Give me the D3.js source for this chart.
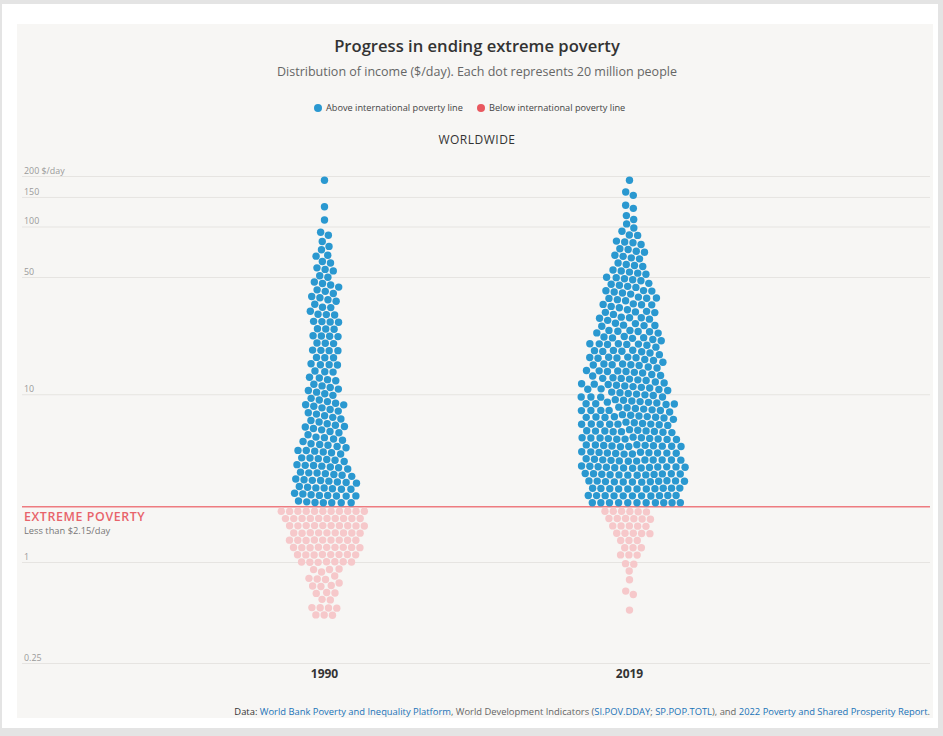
<!DOCTYPE html>
<html>
<head>
<meta charset="utf-8">
<script src="https://cdn.jsdelivr.net/npm/d3@7"></script>
<style>
body{margin:0;background:#fff;font-family:"Open Sans",sans-serif;}
svg{display:block;}
</style>
</head>
<body>
<svg id="chart" width="943" height="736"></svg>
<script>
var years=["1990","2019"];
// income level ($/day) of each band, low to high
var incomeBands=[0.52,0.66,0.79,0.95,1.14,1.37,1.64,1.97,2.36,2.83,3.4,4.09,4.9,5.88,7.07,8.48,10.2,12.2,14.7,17.6,21.2,25.4,30.5,36.6,43.9,52.7,63.4,76,91.2,110,132,158,190];
// number of dots (20 million people each) in each band
var dots1990=[7,5,7,5,15,18,19,21,12,18,14,12,10,9,8,8,7,6,7,7,7,7,6,6,6,5,4,3,2,1,1,0,1];
var dots2019=[1,2,1,3,3,6,10,12,20,21,24,24,23,22,21,21,19,18,17,16,14,12,12,12,10,8,7,6,4,3,2,2,1];
var tickValues=[0.25,1,10,50,100,150,200];
var tickLabels=["0.25","1","10","50","100","150","200 $/day"];
var povertyLine=2.15;

var blue="#2a98d0", pink="#f6c8ca", red="#e8636a";

var svg=d3.select('#chart');

// frame + panel
svg.append('rect').attr('x',0).attr('y',0).attr('width',943).attr('height',736).style('fill','#e4e4e4');
svg.append('rect').attr('x',2).attr('y',4).attr('width',936).attr('height',724).style('fill','#fff');
svg.append('rect').attr('x',17).attr('y',24).attr('width',916).attr('height',694).style('fill','#f7f6f4');

var y=d3.scaleLog().domain([0.25,200]).range([663.5,176.5]);
var x=d3.scaleBand().domain(years).range([172,782]);

// titles
svg.append('text').attr('x',477).attr('y',52).attr('text-anchor','middle')
    .style('font-size','16.6px').style('font-weight','600').style('fill','#333')
    .text('Progress in ending extreme poverty');
svg.append('text').attr('x',477).attr('y',76).attr('text-anchor','middle')
    .style('font-size','12.5px').style('fill','#666')
    .text('Distribution of income ($/day). Each dot represents 20 million people');

// legend
var legend=[{label:'Above international poverty line',color:blue,x:318},
            {label:'Below international poverty line',color:'#e9585f',x:481}];
legend.forEach(function(l){
    svg.append('circle').attr('cx',l.x).attr('cy',108).attr('r',4).style('fill',l.color);
    svg.append('text').attr('x',l.x+8).attr('y',111).style('font-size','9.2px').style('fill','#444').text(l.label);
});

svg.append('text').attr('x',477).attr('y',144).attr('text-anchor','middle')
    .style('font-size','12px').style('letter-spacing','0.5px').style('fill','#333')
    .text('WORLDWIDE');

// grid
var grid=svg.append('g');
tickValues.forEach(function(t,i){
    grid.append('line').attr('x1',22).attr('x2',930).attr('y1',y(t)).attr('y2',y(t))
        .style('stroke','#e6e4e1').style('stroke-width',1);
    grid.append('text').attr('x',24).attr('y',y(t)-2.5)
        .style('font-size','8.9px').style('fill','#9a9a9a').text(tickLabels[i]);
});

// poverty line
svg.append('line').attr('x1',22).attr('x2',930).attr('y1',y(povertyLine)).attr('y2',y(povertyLine))
    .style('stroke','#ee7b80').style('stroke-width',1.3);
svg.append('text').attr('x',24).attr('y',521).style('font-size','12.4px').style('font-weight','600')
    .style('letter-spacing','0.6px').style('fill',red).text('EXTREME POVERTY');
svg.append('text').attr('x',24).attr('y',534).style('font-size','9.3px').style('fill','#777')
    .text('Less than $2.15/day');

// build dots
var nodes=[];
var counts={"1990":dots1990,"2019":dots2019};
var pad=3;
years.forEach(function(yr){
    counts[yr].forEach(function(n,b){
        var yc=y(incomeBands[b]);
        var up=(b<incomeBands.length-1 ? (y(incomeBands[b+1])+yc)/2 : yc-6.7)-pad;
        var down=(b>0 ? (y(incomeBands[b-1])+yc)/2 : yc+6.7)+pad;
        var above=incomeBands[b]>povertyLine;
        if(above) down=Math.min(down,y(povertyLine)-4);
        else up=Math.max(up,y(povertyLine)+4.5);
        for(var j=0;j<n;j++){
            nodes.push({year:yr,value:incomeBands[b],above:above,top:up,bottom:down,
                x:x(yr)+x.bandwidth()/2+(j-(n-1)/2)*4.5,y:yc+((j%2)?2:-2)});
        }
    });
});

var sim=d3.forceSimulation(nodes)
    .force('x',d3.forceX(function(d){return x(d.year)+x.bandwidth()/2;}).strength(0.05))
    .force('y',d3.forceY(function(d){return y(d.value);}).strength(0.06))
    .force('collide',d3.forceCollide(4.15).iterations(3))
    .stop();
for(var i=0;i<400;i++){
    sim.tick();
    nodes.forEach(function(d){
        if(d.y<d.top) d.y=d.top;
        if(d.y>d.bottom) d.y=d.bottom;
    });
}

svg.append('g').selectAll('circle').data(nodes).enter().append('circle')
    .attr('cx',function(d){return d.x;})
    .attr('cy',function(d){return d.y;})
    .attr('r',3.7)
    .style('fill',function(d){return d.above?blue:pink;});

// year labels
years.forEach(function(yr){
    svg.append('text').attr('x',x(yr)+x.bandwidth()/2).attr('y',678).attr('text-anchor','middle')
        .style('font-size','12px').style('font-weight','700').style('fill','#333').text(yr);
});

// source
var src=svg.append('text').attr('x',930).attr('y',715).attr('text-anchor','end').style('font-size','9.4px');
var parts=[['Data: ','#333'],['World Bank Poverty and Inequality Platform','#1a73b8'],[', World Development Indicators (','#666'],
    ['SI.POV.DDAY','#1a73b8'],['; ','#666'],['SP.POP.TOTL','#1a73b8'],['), and ','#666'],
    ['2022 Poverty and Shared Prosperity Report','#1a73b8'],['.','#666']];
parts.forEach(function(p){
    src.append('tspan').style('fill',p[1]).text(p[0]);
});
</script>
</body>
</html>
